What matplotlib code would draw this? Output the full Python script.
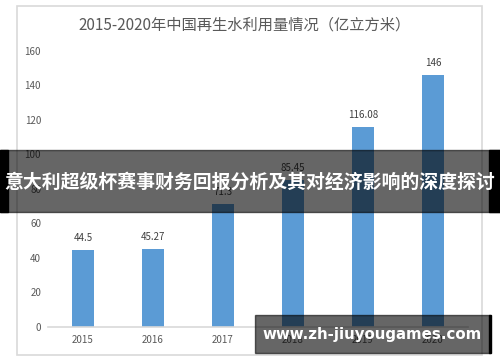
import matplotlib.pyplot as plt
from matplotlib.patches import Rectangle

plt.rcParams['font.family'] = ['Noto Sans CJK SC', 'DejaVu Sans']

years = ['2015', '2016', '2017', '2018', '2019', '2020']
values = [44.5, 45.27, 71.3, 85.45, 116.08, 146]
labels = ['44.5', '45.27', '71.3', '85.45', '116.08', '146']
yticks = [0, 20, 40, 60, 80, 100, 120, 140, 160]

W, H = 500, 362
fig = plt.figure(figsize=(5, 3.62), dpi=100)

# outer chart border
fig.patches.append(Rectangle((17 / W, 1 - 355 / H), 465 / W, 349 / H, transform=fig.transFigure,
                             fill=False, edgecolor='#d9d9d9', linewidth=1.2))

ax = fig.add_axes([48 / W, 1 - 327 / H, 420 / W, 276 / H])
x = range(len(years))
ax.bar(x, values, width=0.32, color='#5b9bd5')
for i, (v, t) in enumerate(zip(values, labels)):
    ax.text(i, v + 4, t, ha='center', va='bottom', fontsize=7, color='#404040')

ax.set_xlim(-0.5, 5.5)
ax.set_ylim(0, 160)
ax.set_xticks(list(x))
ax.set_xticklabels(years, fontsize=7, color='#595959')
ax.set_yticks(yticks)
ax.set_yticklabels([str(v) for v in yticks], fontsize=7, color='#595959')
ax.tick_params(axis='x', length=0, pad=6)
ax.tick_params(axis='y', length=0, pad=5)
for s in ['top', 'right', 'left']:
    ax.spines[s].set_visible(False)
ax.spines['bottom'].set_color('#d9d9d9')
ax.spines['bottom'].set_linewidth(1.2)

fig.text(245 / W, 1 - 25 / H, '2015-2020年中国再生水利用量情况（亿立方米）',
         ha='center', va='center', fontsize=11, color='#595959')

# overlay banner
fig.patches.append(Rectangle((0, 1 - 212 / H), 1, 62 / H, transform=fig.transFigure,
                             color='black', alpha=0.6, zorder=10))
fig.patches.append(Rectangle((0, 1 - 212 / H), 8 / W, 62 / H, transform=fig.transFigure,
                             color='black', zorder=10))
fig.patches.append(Rectangle((489 / W, 1 - 212 / H), 11 / W, 62 / H, transform=fig.transFigure,
                             color='black', zorder=10))
fig.text(0.5, 1 - 182 / H, '意大利超级杯赛事财务回报分析及其对经济影响的深度探讨',
         ha='center', va='center', fontsize=13.6, fontweight='bold', color='white', zorder=11)

# watermark box
fig.patches.append(Rectangle((255 / W, 1 - 353 / H), 235 / W, 38 / H, transform=fig.transFigure,
                             color='black', alpha=0.6, zorder=10))
fig.patches.append(Rectangle((489 / W, 1 - 353 / H), 2 / W, 38 / H, transform=fig.transFigure,
                             color='black', zorder=10))
fig.text(372 / W, 1 - 335 / H, 'www.zh-jiuyougames.com',
         ha='center', va='center', fontsize=10.8, fontweight='bold', color='white', zorder=11,
         family='DejaVu Sans')

fig.savefig('out.png', dpi=100)
